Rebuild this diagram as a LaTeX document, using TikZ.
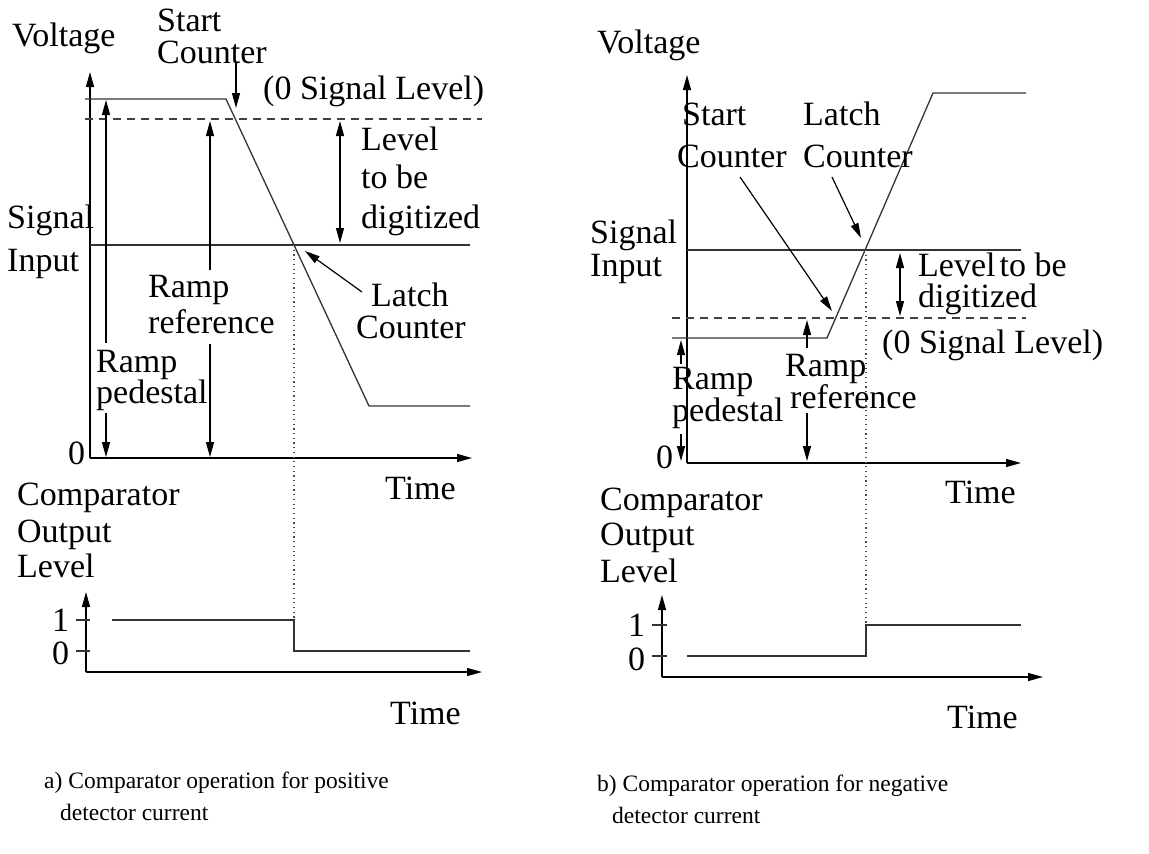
\documentclass[tikz,border=0pt]{standalone}
\usepackage{fontspec}
\setmainfont{Liberation Serif}
\usetikzlibrary{arrows.meta}
\newcommand\twoln[4]{\vtop{\baselineskip=#4pt\lineskiplimit=-100pt\hbox{#1}\hbox{\kern#3pt #2}}}
\begin{document}
\begin{tikzpicture}[x=1pt,y=-1pt,
  every node/.style={inner sep=0pt,anchor=base west,font=\fontsize{34}{37}\selectfont},
  captxt/.style={font=\fontsize{23.5}{27}\selectfont},
  ln/.style={line width=1.3pt,draw=black!80},
  ax/.style={line width=1.3pt,-{Triangle[length=15pt,width=8pt]}},
  ar/.style={line width=1.2pt,-{Triangle[length=15pt,width=8pt]}},
  dar/.style={line width=1.2pt,{Triangle[length=15pt,width=8pt]}-{Triangle[length=15pt,width=8pt]}},
  dsh/.style={line width=1.2pt,draw=black!75,dash pattern=on 8pt off 6pt},
  dtt/.style={line width=1.1pt,draw=black!70,dash pattern=on 1.2pt off 3.5pt}]
\useasboundingbox (0,0) rectangle (1149,854);
% ================= LEFT PANEL =================
\coordinate (LO) at (90,458);
\coordinate (LYt) at (90,72);
\coordinate (LXt) at (472,458);
\draw[ax] (LO) -- (LYt);
\draw[ax] (LO) -- (LXt);
\coordinate (La) at (85,99);
\coordinate (Lb) at (226,99);
\coordinate (Lc) at (369,406);
\coordinate (Ld) at (470,406);
\draw[ln] (La) -- (Lb) -- (Lc) -- (Ld);
\coordinate (Lz1) at (85,119);
\coordinate (Lz2) at (482,119);
\draw[dsh] (Lz1) -- (Lz2);
\coordinate (Ls1) at (90,245);
\coordinate (Ls2) at (470,245);
\draw[ln] (Ls1) -- (Ls2);
\coordinate (Lx) at (294,245);
\coordinate (Lxb) at (294,620);
\draw[dtt] (Lx) -- (Lxb);
% arrows
\coordinate (Lsc1) at (236,63);
\coordinate (Lsc2) at (236,108);
\draw[ar] (Lsc1) -- (Lsc2);
\coordinate (Llv1) at (340,121);
\coordinate (Llv2) at (340,243);
\draw[dar] (Llv1) -- (Llv2);
\coordinate (Lp1) at (106,343);
\coordinate (Lp2) at (106,100);
\coordinate (Lp3) at (106,413);
\coordinate (Lp4) at (106,457);
\draw[ar] (Lp1) -- (Lp2);
\draw[ar] (Lp3) -- (Lp4);
\coordinate (Lr1) at (210,270);
\coordinate (Lr2) at (210,121);
\coordinate (Lr3) at (210,344);
\coordinate (Lr4) at (210,457);
\draw[ar] (Lr1) -- (Lr2);
\draw[ar] (Lr3) -- (Lr4);
\coordinate (Llc1) at (362,292);
\coordinate (Llc2) at (305,251);
\draw[ar] (Llc1) -- (Llc2);
% lower plot
\coordinate (LO2) at (86,672);
\coordinate (LY2) at (86,592);
\coordinate (LX2) at (482,672);
\draw[ax] (LO2) -- (LY2);
\draw[ax] (LO2) -- (LX2);
\coordinate (Lt1a) at (76,620); \coordinate (Lt1b) at (90,620);
\coordinate (Lt0a) at (76,651); \coordinate (Lt0b) at (90,651);
\draw[ln] (Lt1a) -- (Lt1b);
\draw[ln] (Lt0a) -- (Lt0b);
\coordinate (Lq1) at (112,620); \coordinate (Lq2) at (294,620);
\coordinate (Lq3) at (294,651); \coordinate (Lq4) at (470,651);
\draw[ln] (Lq1) -- (Lq2) -- (Lq3) -- (Lq4);
% labels
\node (lvolt) at (12,46) {Voltage};
\node (lstart) at (157,31) {Start};
\node (lcount) at (157,63) {Counter};
\node (lzero) at (263,99) {(0 Signal Level)};
\node (llev1) at (361,150) {Level};
\node (llev2) at (361,188) {to be};
\node (llev3) at (361,228) {digitized};
\node (lsig1) at (7,228) {Signal};
\node (lsig2) at (7,271) {Input};
\node (llat1) at (371,306) {Latch};
\node (llat2) at (356,338) {Counter};
\node (lref1) at (148,297) {Ramp};
\node (lref2) at (148,333) {reference};
\node (lped) at (96,372) {\twoln{Ramp}{pedestal}{0}{31}};
\node (l0) at (68,464) {0};
\node (ltime) at (385,499) {Time};
\node (lcmp1) at (17,505) {Comparator};
\node (lcmp2) at (17,542) {Output};
\node (lcmp3) at (17,577) {Level};
\node (l1b) at (52,631) {1};
\node (l0b) at (52,664) {0};
\node (ltime2) at (390,724) {Time};
\node[captxt] (lcapa) at (44,788) {a) Comparator operation for positive};
\node[captxt] (lcapb) at (60,820) {detector current};
% ================= RIGHT PANEL =================
\coordinate (RO) at (687,463);
\coordinate (RYt) at (687,75);
\coordinate (RXt) at (1021,463);
\draw[ax] (RO) -- (RYt);
\draw[ax] (RO) -- (RXt);
\coordinate (Ra) at (672,338);
\coordinate (Rb) at (827,338);
\coordinate (Rc) at (933,93);
\coordinate (Rd) at (1026,93);
\draw[ln] (Ra) -- (Rb) -- (Rc) -- (Rd);
\coordinate (Rz1) at (672,318);
\coordinate (Rz2) at (1026,318);
\draw[dsh] (Rz1) -- (Rz2);
\coordinate (Rs1) at (687,250);
\coordinate (Rs2) at (1021,250);
\draw[ln] (Rs1) -- (Rs2);
\coordinate (Rx) at (866,250);
\coordinate (Rxb) at (866,625);
\draw[dtt] (Rx) -- (Rxb);
\coordinate (Rsc1) at (740,177);
\coordinate (Rsc2) at (832,311);
\draw[ar] (Rsc1) -- (Rsc2);
\coordinate (Rlc1) at (832,177);
\coordinate (Rlc2) at (861,238);
\draw[ar] (Rlc1) -- (Rlc2);
\coordinate (Rlv1) at (900,253);
\coordinate (Rlv2) at (900,316);
\draw[dar] (Rlv1) -- (Rlv2);
\coordinate (Rp1) at (681,364);
\coordinate (Rp2) at (681,340);
\coordinate (Rp3) at (681,434);
\coordinate (Rp4) at (681,461);
\draw[ar] (Rp1) -- (Rp2);
\draw[ar] (Rp3) -- (Rp4);
\coordinate (Rr1) at (807,348);
\coordinate (Rr2) at (807,320);
\coordinate (Rr3) at (807,413);
\coordinate (Rr4) at (807,461);
\draw[ar] (Rr1) -- (Rr2);
\draw[ar] (Rr3) -- (Rr4);
% lower plot
\coordinate (RO2) at (662,677);
\coordinate (RY2) at (662,595);
\coordinate (RX2) at (1043,677);
\draw[ax] (RO2) -- (RY2);
\draw[ax] (RO2) -- (RX2);
\coordinate (Rt1a) at (652,625); \coordinate (Rt1b) at (667,625);
\coordinate (Rt0a) at (652,656); \coordinate (Rt0b) at (667,656);
\draw[ln] (Rt1a) -- (Rt1b);
\draw[ln] (Rt0a) -- (Rt0b);
\coordinate (Rq1) at (687,656); \coordinate (Rq2) at (866,656);
\coordinate (Rq3) at (866,625); \coordinate (Rq4) at (1021,625);
\draw[ln] (Rq1) -- (Rq2) -- (Rq3) -- (Rq4);
% labels
\node (rvolt) at (597,53) {Voltage};
\node (rstart1) at (682,125) {Start};
\node (rstart2) at (677,167) {Counter};
\node (rlat1) at (803,125) {Latch};
\node (rlat2) at (803,167) {Counter};
\node (rsig1) at (590,243) {Signal};
\node (rsig2) at (590,276) {Input};
\node (rlev1) at (918,276) {Level\kern4pt to be};
\node (rlev2) at (918,307) {digitized};
\node (rzero) at (882,353) {(0 Signal Level)};
\node (rped) at (672,389) {\twoln{Ramp}{pedestal}{0}{32}};
\node (rref) at (785,376) {\twoln{Ramp}{reference}{5}{32}};
\node (r0) at (656,468) {0};
\node (rtime) at (945,503) {Time};
\node (rcmp1) at (600,510) {Comparator};
\node (rcmp2) at (600,545) {Output};
\node (rcmp3) at (600,582) {Level};
\node (r1b) at (628,636) {1};
\node (r0b) at (628,670) {0};
\node (rtime2) at (947,728) {Time};
\node[captxt] (rcapa) at (597,791) {b) Comparator operation for negative};
\node[captxt] (rcapb) at (612,823) {detector current};
\end{tikzpicture}
\end{document}
